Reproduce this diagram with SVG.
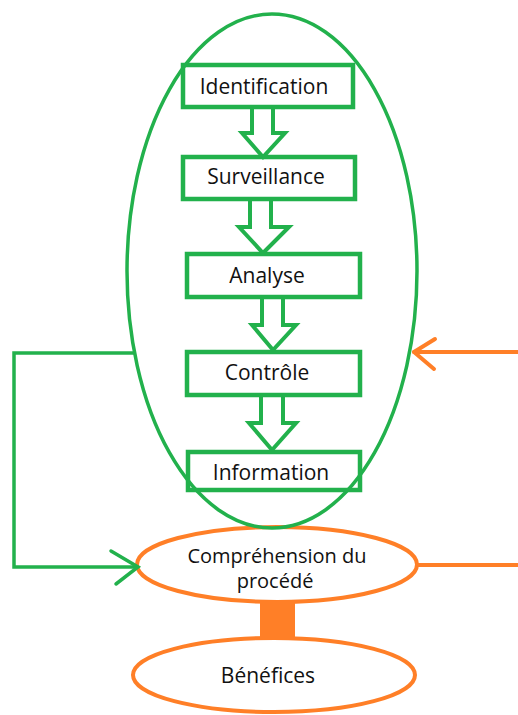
<svg xmlns="http://www.w3.org/2000/svg" width="518" height="715" viewBox="0 0 518 715">
<style>
.box{fill:none;stroke:#22b14c;stroke-width:4.5}
.barrow{fill:#fff;stroke:#22b14c;stroke-width:4;stroke-linejoin:miter}
.g{fill:none;stroke:#22b14c;stroke-width:3.5}
.o{fill:none;stroke:#ff7f27;stroke-width:4;stroke-linecap:round;stroke-linejoin:round}
text{font-family:"Open Sans","Noto Sans","DejaVu Sans",sans-serif;font-size:21px;fill:#111;text-anchor:middle}
.sm{font-size:20px}
</style>
<rect width="518" height="715" fill="#fff"/>
<g id="comprehension">
<ellipse class="o" cx="277" cy="564.5" rx="140" ry="37.5"/>
<text class="sm" x="277" y="563">Compréhension du</text>
<text class="sm" x="275" y="588">procédé</text>
</g>
<g id="benefices">
<ellipse class="o" cx="274" cy="675" rx="141" ry="37"/>
<text x="268" y="683">Bénéfices</text>
</g>
<g id="connectors">
<rect x="260" y="602" width="35" height="37" fill="#ff7f27"/>
<polyline class="g" points="135,353 14,353 14,567 138,567"/>
<polyline class="g" points="111,551 138,567 116,584" stroke-linecap="round"/>
<line class="o" x1="518" y1="352" x2="414" y2="352"/>
<polyline class="o" points="435,339 414,352 434,369"/>
<line class="o" x1="418" y1="565" x2="518" y2="565"/>
<polygon class="barrow" points="252,107 273,107 273,133 285,133 263,157 242,133 252,133"/>
<polygon class="barrow" points="250,199 271,199 271,227 289,227 263,253 239,227 250,227"/>
<polygon class="barrow" points="262,297 283,297 283,325 296,325 273,350 252,325 262,325"/>
<polygon class="barrow" points="261,395 283,395 283,423 296,423 272,450 249,423 261,423"/>
</g>
<g id="cycle">
<ellipse class="g" cx="272" cy="271" rx="145" ry="257"/>
</g>
<g id="identification">
<rect class="box" x="183" y="65" width="170" height="42"/>
<text x="264" y="94">Identification</text>
</g>
<g id="surveillance">
<rect class="box" x="183" y="157" width="172" height="42"/>
<text x="266" y="184">Surveillance</text>
</g>
<g id="analyse">
<rect class="box" x="187" y="254" width="173" height="43"/>
<text x="267" y="283">Analyse</text>
</g>
<g id="controle">
<rect class="box" x="187" y="352" width="173" height="43"/>
<text x="267" y="380">Contrôle</text>
</g>
<g id="information">
<rect class="box" x="188" y="452" width="172" height="38"/>
<text x="271" y="480">Information</text>
</g>
</svg>
